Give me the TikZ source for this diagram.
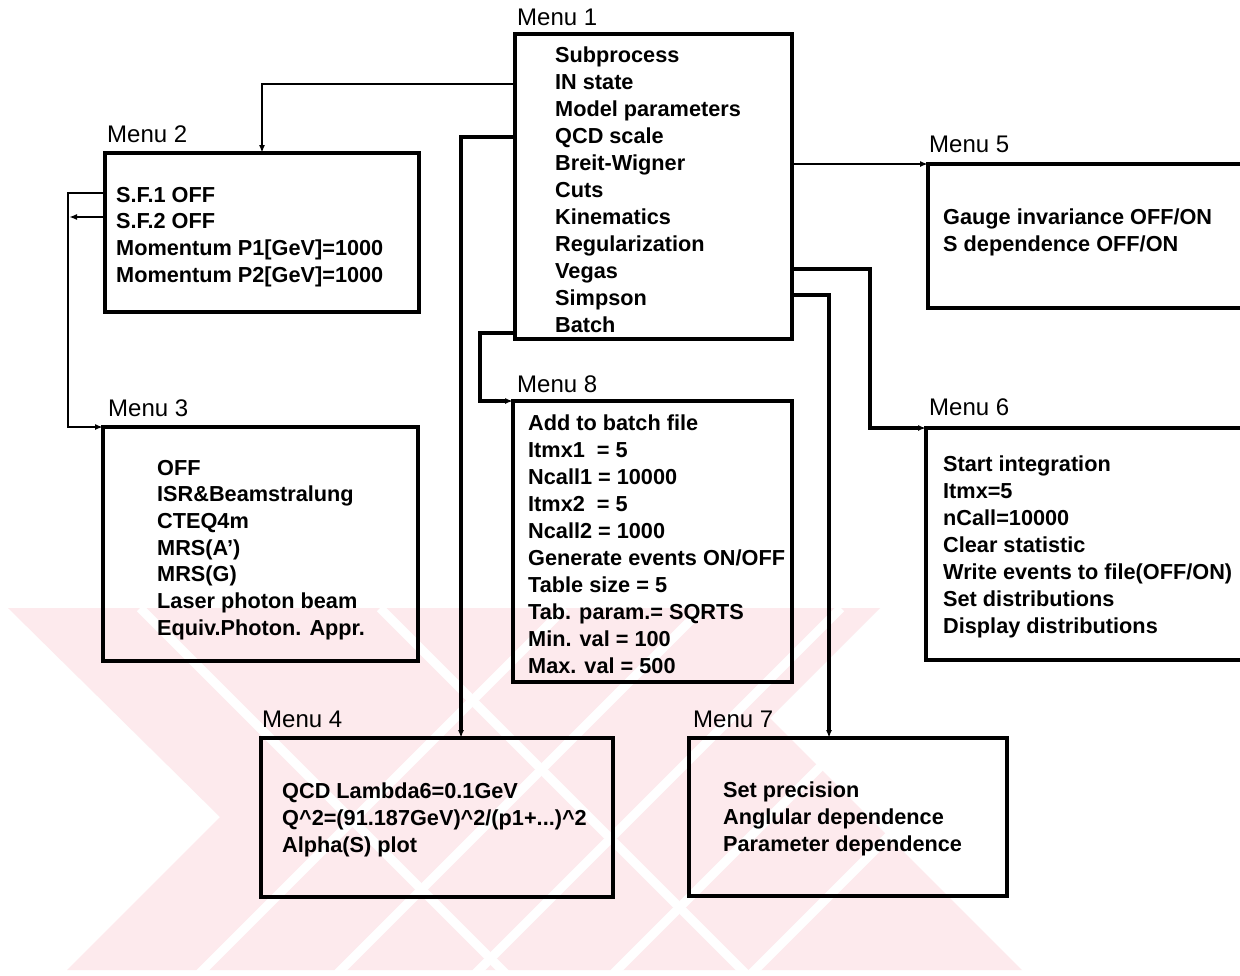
\documentclass[tikz,border=0pt]{standalone}
\usepackage{fontspec}
\setmainfont{Liberation Sans}
\usetikzlibrary{arrows.meta,calc}
\definecolor{wm}{RGB}{253,234,237}
\newcommand\myqline{Q\textasciicircum 2=(91.187GeV)\textasciicircum 2/(p1+...)\textasciicircum 2}
\tikzset{
  box/.style={draw, line width=3.6pt, inner sep=0pt, outer sep=0pt, anchor=north west},
  lbl/.style={font=\fontsize{24}{28}\selectfont, anchor=base west, inner sep=0pt},
  itm/.style={font=\fontsize{21.7}{27}\selectfont\bfseries, anchor=base west, inner sep=0pt},
  connthin/.style={line width=2pt, -{Latex[length=8pt,width=6pt]}},
  connthick/.style={line width=3.2pt, -{Latex[length=8pt,width=6pt]}},
  hatch/.style={white, line width=9pt},
}
\begin{document}
\begin{tikzpicture}[x=1pt,y=-1pt]
\useasboundingbox (0,0) rectangle (1240,975);
\fill[white] (0,0) rectangle (1240,975);
% watermark
\begin{scope}
\clip (0,608) rectangle (1240,971);
\fill[wm] (8,608) -- (880,608) -- (770,718) -- (1022,970) -- (67,970) -- (220,817) -- cycle;
\foreach \c in {565,703,841,979,1117}
  \draw[hatch] (\c,608) -- ({\c-400},1008);
\foreach \c in {140,380}
  \draw[hatch] (\c,608) -- ({\c+400},1008);
\end{scope}
% boxes
\node[box, minimum width=277pt, minimum height=305pt] (m1) at (515,34) {};
\node[box, minimum width=314pt, minimum height=159pt] (m2) at (105,153) {};
\node[box, minimum width=315pt, minimum height=234pt] (m3) at (103,427) {};
\node[box, minimum width=352pt, minimum height=159pt] (m4) at (261,738) {};
\node[box, minimum width=340pt, minimum height=144pt] (m5) at (928,164) {};
\node[box, minimum width=340pt, minimum height=232pt] (m6) at (926,428) {};
\node[box, minimum width=318pt, minimum height=158pt] (m7) at (689,738) {};
\node[box, minimum width=279pt, minimum height=281pt] (m8) at (513,401) {};
% labels
\node[lbl] (l1) at (517,25) {Menu 1};
\node[lbl] (l2) at (107,142) {Menu 2};
\node[lbl] (l3) at (108,416) {Menu 3};
\node[lbl] (l4) at (262,727) {Menu 4};
\node[lbl] (l5) at (929,152) {Menu 5};
\node[lbl] (l6) at (929,415) {Menu 6};
\node[lbl] (l7) at (693,727) {Menu 7};
\node[lbl] (l8) at (517,392) {Menu 8};
% items
\foreach \t [count=\i] in {Subprocess,IN state,Model parameters,QCD scale,Breit-Wigner,Cuts,Kinematics,Regularization,Vegas,Simpson,Batch}
  \node[itm] (a\i) at (555,{62+27*(\i-1)}) {\t};
\foreach \t [count=\i] in {S.F.1 OFF,S.F.2 OFF,Momentum P1[GeV]=1000,Momentum P2[GeV]=1000}
  \node[itm] (b\i) at (116,{202+26.7*(\i-1)}) {\t};
\foreach \t [count=\i] in {OFF,ISR\&Beamstralung,CTEQ4m,MRS(A'),MRS(G),Laser photon beam,Equiv.Photon. Appr.}
  \node[itm] (c\i) at (157,{475+26.7*(\i-1)}) {\t};
\foreach \t [count=\i] in {QCD Lambda6=0.1GeV,\myqline,Alpha(S) plot}
  \node[itm] (d\i) at (282,{798+27*(\i-1)}) {\t};
\foreach \t [count=\i] in {Gauge invariance OFF/ON,S dependence OFF/ON}
  \node[itm] (e\i) at (943,{224+27*(\i-1)}) {\t};
\foreach \t [count=\i] in {Start integration,Itmx=5,nCall=10000,Clear statistic,Write events to file(OFF/ON),Set distributions,Display distributions}
  \node[itm] (f\i) at (943,{471+27*(\i-1)}) {\t};
\foreach \t [count=\i] in {Set precision,Anglular dependence,Parameter dependence}
  \node[itm] (g\i) at (723,{797+27*(\i-1)}) {\t};
\foreach \t [count=\i] in {Add to batch file,Itmx1\ \ = 5,Ncall1 = 10000,Itmx2\ \ = 5,Ncall2 = 1000,Generate events ON/OFF,Table size = 5,Tab. param.= SQRTS,Min. val = 100,Max. val = 500}
  \node[itm] (h\i) at (528,{430+27*(\i-1)}) {\t};
% connectors
\draw[connthin] (m1.west |- 0,84) -| (m2.north -| 262,0);
\draw[connthick] (m1.west |- 0,137) -| (m4.north -| 461,0);
\coordinate (k8) at (480,401);
\draw[connthick] (m1.west |- 0,333) -| (k8) -- (m8.north west);
\draw[connthin] (m1.east |- 0,164) -- (m5.north west);
\coordinate (k6) at (870,428);
\draw[connthick] (m1.east |- 0,269) -| (k6) -- (m6.north west);
\draw[connthick] (m1.east |- 0,295) -| (m7.north -| 829,0);
\coordinate (k3) at (68,427);
\draw[connthin, line width=2.4pt] (m2.west |- 0,193) -| (k3) -- (m3.north west);
\coordinate (k2) at (69,217);
\draw[connthin, line width=2.4pt] (m2.west |- 0,217) -- (k2);
\end{tikzpicture}
\end{document}
